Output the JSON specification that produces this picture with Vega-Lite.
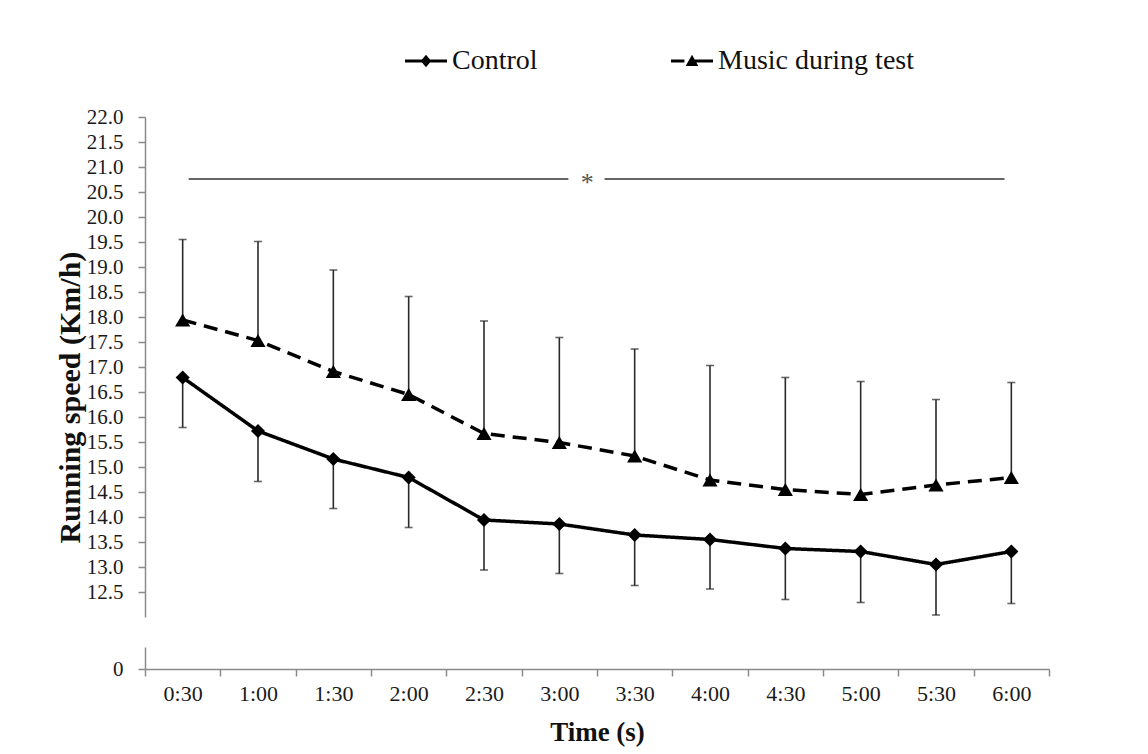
{
  "$schema": "https://vega.github.io/schema/vega-lite/v6.json",
  "background": "white",
  "padding": {"left": 55, "top": 40, "right": 10, "bottom": 5},
  "config": {
    "view": {"stroke": null},
    "font": "Liberation Serif",
    "axis": {
      "labelFont": "Liberation Serif",
      "titleFont": "Liberation Serif",
      "labelColor": "#1a1a1a",
      "titleColor": "#111",
      "domainColor": "#8a8a8a",
      "tickColor": "#8a8a8a",
      "domainWidth": 1.5,
      "tickWidth": 1.5,
      "grid": false,
      "labelOverlap": false
    },
    "legend": {"labelFont": "Liberation Serif"}
  },
  "datasets": {
    "speed": [
      {"time": "0:30", "group": "Control", "speed": 16.79, "bar_end": 15.79},
      {"time": "1:00", "group": "Control", "speed": 15.72, "bar_end": 14.71},
      {"time": "1:30", "group": "Control", "speed": 15.16, "bar_end": 14.17},
      {"time": "2:00", "group": "Control", "speed": 14.79, "bar_end": 13.79},
      {"time": "2:30", "group": "Control", "speed": 13.94, "bar_end": 12.94},
      {"time": "3:00", "group": "Control", "speed": 13.86, "bar_end": 12.87},
      {"time": "3:30", "group": "Control", "speed": 13.64, "bar_end": 12.63},
      {"time": "4:00", "group": "Control", "speed": 13.55, "bar_end": 12.56},
      {"time": "4:30", "group": "Control", "speed": 13.37, "bar_end": 12.35},
      {"time": "5:00", "group": "Control", "speed": 13.31, "bar_end": 12.29},
      {"time": "5:30", "group": "Control", "speed": 13.05, "bar_end": 12.04},
      {"time": "6:00", "group": "Control", "speed": 13.31, "bar_end": 12.27},
      {"time": "0:30", "group": "Music during test", "speed": 17.94, "bar_end": 19.55},
      {"time": "1:00", "group": "Music during test", "speed": 17.53, "bar_end": 19.51},
      {"time": "1:30", "group": "Music during test", "speed": 16.91, "bar_end": 18.94},
      {"time": "2:00", "group": "Music during test", "speed": 16.45, "bar_end": 18.41},
      {"time": "2:30", "group": "Music during test", "speed": 15.67, "bar_end": 17.92},
      {"time": "3:00", "group": "Music during test", "speed": 15.49, "bar_end": 17.59},
      {"time": "3:30", "group": "Music during test", "speed": 15.22, "bar_end": 17.36},
      {"time": "4:00", "group": "Music during test", "speed": 14.74, "bar_end": 17.03},
      {"time": "4:30", "group": "Music during test", "speed": 14.55, "bar_end": 16.79},
      {"time": "5:00", "group": "Music during test", "speed": 14.45, "bar_end": 16.71},
      {"time": "5:30", "group": "Music during test", "speed": 14.64, "bar_end": 16.35},
      {"time": "6:00", "group": "Music during test", "speed": 14.79, "bar_end": 16.69}
    ],
    "sig": [
      {"part": "left", "start": "0:30", "end": "3:00", "level": 20.76, "label": "*"},
      {"part": "right", "start": "3:30", "end": "6:00", "level": 20.76, "label": "*"}
    ]
  },
  "spacing": 30,
  "vconcat": [
    {
      "width": 904,
      "height": 500,
      "layer": [
        {
          "data": {"name": "speed"},
          "transform": [{"filter": "datum.speed > 100"}],
          "mark": {"type": "point", "filled": true, "color": "black"},
          "encoding": {
            "shape": {
              "field": "group",
              "type": "nominal",
              "scale": {
                "domain": ["Control", "Music during test"],
                "range": [
                  "M-1,-0.07H1V0.07H-1ZM0,-0.3L0.25,0L0,0.3L-0.25,0Z",
                  "M-1,-0.07H-0.36V0.07H-1ZM-0.1,-0.07H1V0.07H-0.1ZM0,-0.3L0.3,0.24L-0.3,0.24Z"
                ]
              },
              "legend": {
                "title": null,
                "orient": "none",
                "direction": "horizontal",
                "legendX": 260,
                "legendY": -77,
                "symbolSize": 1764,
                "symbolFillColor": "black",
                "symbolStrokeWidth": 0,
                "symbolOpacity": 1,
                "labelFontSize": 28,
                "labelColor": "#111",
                "labelOffset": 5,
                "labelLimit": 400,
                "columnPadding": 133
              }
            }
          }
        },
        {
          "data": {"name": "speed"},
          "mark": {"type": "rule", "color": "#2a2a2a", "strokeWidth": 1.6},
          "encoding": {
            "x": {"field": "time", "type": "ordinal", "sort": null, "scale": {"domain": ["0:30","1:00","1:30","2:00","2:30","3:00","3:30","4:00","4:30","5:00","5:30","6:00"], "paddingInner": 0, "paddingOuter": 0}, "axis": null},
            "y": {"field": "speed", "type": "quantitative", "scale": {"domain": [12, 22], "zero": false, "nice": false},
              "axis": {
                "title": "Running  speed (Km/h)",
                "titleFontSize": 30,
                "titleFontWeight": "bold",
                "titleX": -60,
                "titleY": 280,
                "values": [12.5,13,13.5,14,14.5,15,15.5,16,16.5,17,17.5,18,18.5,19,19.5,20,20.5,21,21.5,22],
                "tickCount": 40,
                "format": ".1f",
                "labelFontSize": 21,
                "labelPadding": 15,
                "labelOverlap": false,
                "labelFlush": false,
                "labelBound": false,
                "tickSize": 7
              }
            },
            "y2": {"field": "bar_end"}
          }
        },
        {
          "data": {"name": "speed"},
          "mark": {"type": "tick", "color": "#2a2a2a", "size": 8, "thickness": 1.6},
          "encoding": {
            "x": {"field": "time", "type": "ordinal", "sort": null},
            "y": {"field": "bar_end", "type": "quantitative"}
          }
        },
        {
          "data": {"name": "speed"},
          "mark": {"type": "line", "color": "black", "strokeWidth": 3.5},
          "encoding": {
            "x": {"field": "time", "type": "ordinal", "sort": null},
            "y": {"field": "speed", "type": "quantitative"},
            "detail": {"field": "group"},
            "strokeDash": {"field": "group", "type": "nominal", "scale": {"domain": ["Control", "Music during test"], "range": [[1, 0], [14, 8]]}, "legend": null}
          }
        },
        {
          "data": {"name": "speed"},
          "transform": [{"filter": "datum.group === 'Control'"}],
          "mark": {"type": "point", "shape": "diamond", "filled": true, "color": "black", "size": 200, "opacity": 1},
          "encoding": {
            "x": {"field": "time", "type": "ordinal", "sort": null},
            "y": {"field": "speed", "type": "quantitative"}
          }
        },
        {
          "data": {"name": "speed"},
          "transform": [{"filter": "datum.group === 'Music during test'"}],
          "mark": {"type": "point", "shape": "triangle-up", "filled": true, "color": "black", "size": 230, "opacity": 1},
          "encoding": {
            "x": {"field": "time", "type": "ordinal", "sort": null},
            "y": {"field": "speed", "type": "quantitative"}
          }
        },
        {
          "data": {"name": "sig"},
          "transform": [{"filter": "datum.part === 'left'"}],
          "mark": {"type": "rule", "color": "#666", "strokeWidth": 2},
          "encoding": {
            "x": {"field": "start", "type": "ordinal", "bandPosition": 0.58},
            "x2": {"field": "end", "bandPosition": 0.62},
            "y": {"field": "level", "type": "quantitative"}
          }
        },
        {
          "data": {"name": "sig"},
          "transform": [{"filter": "datum.part === 'right'"}],
          "mark": {"type": "rule", "color": "#666", "strokeWidth": 2},
          "encoding": {
            "x": {"field": "start", "type": "ordinal", "bandPosition": 0.1},
            "x2": {"field": "end", "bandPosition": 0.41},
            "y": {"field": "level", "type": "quantitative"}
          }
        },
        {
          "data": {"name": "sig"},
          "transform": [{"filter": "datum.part === 'left'"}],
          "mark": {"type": "text", "color": "#555", "fontSize": 26, "baseline": "middle", "dy": 4},
          "encoding": {
            "x": {"field": "end", "type": "ordinal", "bandPosition": 0.87},
            "y": {"field": "level", "type": "quantitative"},
            "text": {"field": "label"}
          }
        }
      ]
    },
    {
      "width": 904,
      "height": 22,
      "data": {"name": "speed"},
      "mark": {"type": "point", "opacity": 0},
      "encoding": {
        "x": {"field": "time", "type": "ordinal", "sort": null,
          "scale": {"domain": ["0:30","1:00","1:30","2:00","2:30","3:00","3:30","4:00","4:30","5:00","5:30","6:00"], "paddingInner": 0, "paddingOuter": 0},
          "axis": {"title": "Time (s)", "titleFontSize": 27, "titleFontWeight": "bold", "titlePadding": 15, "labelFontSize": 22, "labelAngle": 0, "labelPadding": 7, "tickSize": 7, "tickBand": "extent"}
        },
        "y": {"datum": 0, "type": "quantitative", "scale": {"domain": [0, 1], "nice": false},
          "axis": {"title": null, "values": [0], "labelFontSize": 21, "labelPadding": 15, "tickSize": 7}
        }
      }
    }
  ]
}
